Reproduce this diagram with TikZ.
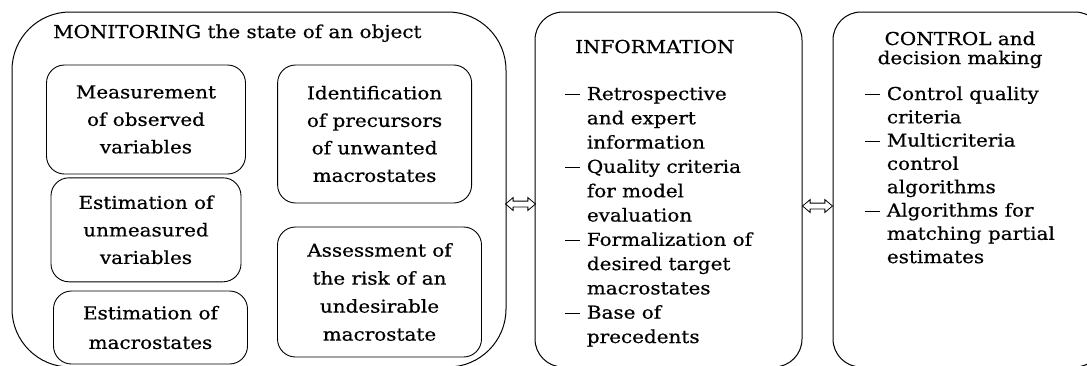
\documentclass[tikz,border=0pt]{standalone}
\usepackage{fontspec}
\setmainfont{DejaVu Serif}[FakeStretch=1.12, FakeBold=0.6]
\usetikzlibrary{shapes.arrows,calc}
\newcommand\dd{\rule[5pt]{15pt}{0.9pt}}
\begin{document}
\begin{tikzpicture}[x=1pt,y=-1pt,
  outer/.style={draw, line width=1pt, rectangle, inner sep=0pt},
  ibox/.style={draw, line width=0.9pt, rectangle, rounded corners=18pt, inner sep=0pt,
     align=center, font=\fontsize{17.8}{27.5}\selectfont},
  txt/.style={inner sep=0pt, font=\fontsize{17.8}{24}\selectfont},
  dblarrow/.style={draw, line width=0.8pt, double arrow, inner xsep=0pt, inner ysep=2.5pt,
     double arrow head extend=3.5pt, double arrow tip angle=80, minimum height=30pt}]
\useasboundingbox (0,0) rectangle (1087,365);
\clip (0,0) rectangle (1087,365);
% outer boxes
\node[outer, rounded corners=58pt, minimum width=494pt, minimum height=355pt] (mon) at (259,189.5) {};
\node[outer, rounded corners=28pt, minimum width=267pt, minimum height=355pt] (info) at (668.5,189.5) {};
\node[outer, rounded corners=28pt, minimum width=270pt, minimum height=355pt] (ctrl) at (968,189.5) {};
% inner boxes
\node[ibox, minimum width=199pt, minimum height=109pt] (meas) at (146,119.5) {Measurement\\of observed\\variables};
\node[ibox, minimum width=194pt, minimum height=138pt] (ident) at (374.6,134) {Identification\\of precursors\\of unwanted\\macrostates};
\node[ibox, minimum width=190pt, minimum height=104pt] (estu) at (146,229.8) {Estimation of\\unmeasured\\variables};
\node[ibox, minimum width=194pt, minimum height=73pt, font=\fontsize{17.8}{29.5}\selectfont] (estm) at (150.5,327.5) {Estimation of\\macrostates};
\node[ibox, minimum width=204pt, minimum height=130pt, font=\fontsize{17.8}{28}\selectfont] (assess) at (379.5,292) {Assessment of\\the risk of an\\undesirable\\macrostate};
% titles
\node[txt, anchor=base west] (t1) at (53,38) {MONITORING the state of an object};
\node[txt, anchor=base west] (t2) at (575,53) {INFORMATION};
\node[txt, anchor=base, font=\fontsize{17.8}{18.8}\selectfont] (t3) at (960,45)
  {\begin{tabular}[t]{@{}c@{}}CONTROL and\\decision making\end{tabular}};
% lists
\node[txt, anchor=base west, font=\fontsize{17.8}{24.3}\selectfont] (l2) at (565,100)
  {\begin{tabular}[t]{@{}p{21.7pt}@{}l@{}}
  \dd&Retrospective\\ &and expert\\ &information\\
  \dd&Quality criteria\\ &for model\\ &evaluation\\
  \dd&Formalization of\\ &desired target\\ &macrostates\\
  \dd&Base of\\ &precedents\end{tabular}};
\node[txt, anchor=base west, font=\fontsize{17.8}{23.3}\selectfont] (l3) at (865,100)
  {\begin{tabular}[t]{@{}p{21.7pt}@{}l@{}}
  \dd&Control quality\\ &criteria\\
  \dd&Multicriteria\\ &control\\ &algorithms\\
  \dd&Algorithms for\\ &matching partial\\ &estimates\end{tabular}};
% arrows
\coordinate (ya) at (0,204);
\coordinate (yb) at (0,206);
\node[dblarrow] (a1) at ($(mon.east |- ya)!0.5!(info.west |- ya)$) {};
\node[dblarrow] (a2) at ($(info.east |- yb)!0.5!(ctrl.west |- yb)$) {};
\end{tikzpicture}
\end{document}
